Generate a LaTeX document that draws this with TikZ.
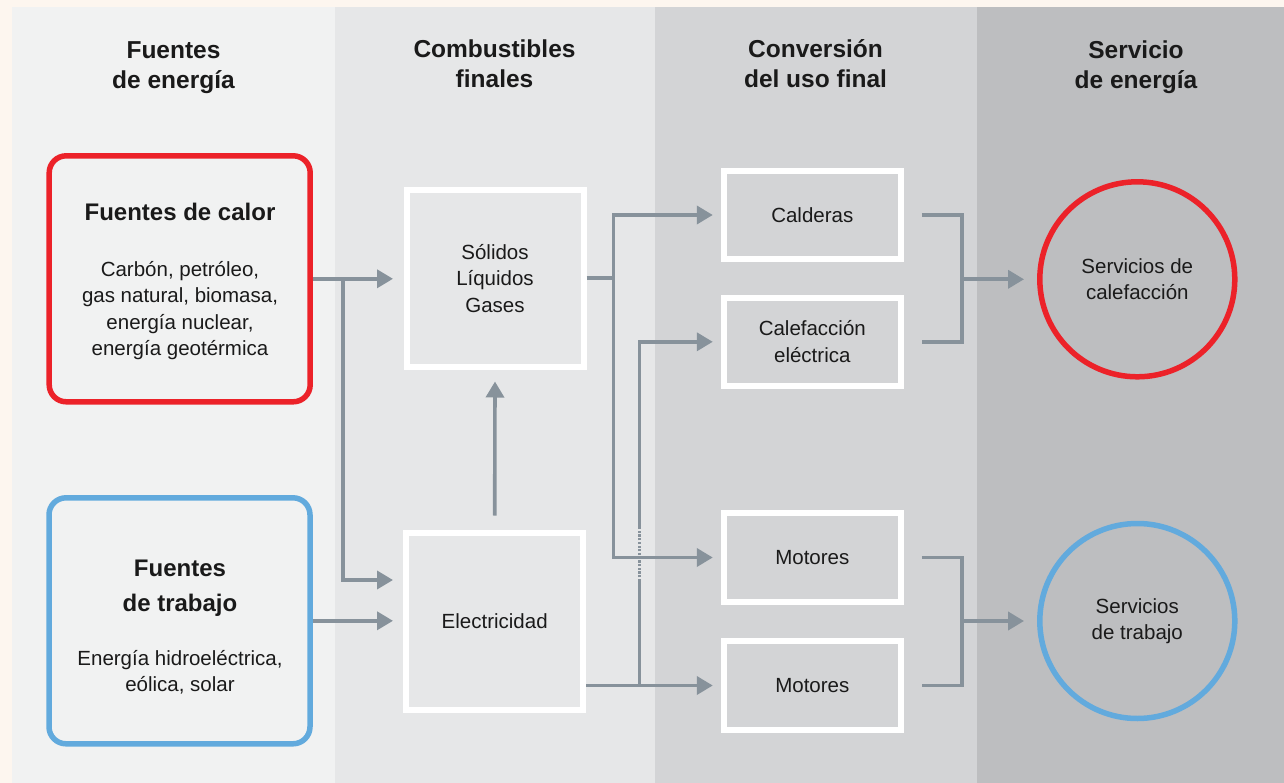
\documentclass[tikz,border=0pt]{standalone}
\usepackage{fontspec}
\setmainfont{Liberation Sans}
\usetikzlibrary{arrows.meta,calc}
\definecolor{cream}{HTML}{FDF6EF}
\definecolor{colA}{HTML}{F1F2F2}
\definecolor{colB}{HTML}{E6E7E8}
\definecolor{colC}{HTML}{D3D4D6}
\definecolor{colD}{HTML}{BDBEC0}
\definecolor{heatred}{HTML}{EC2229}
\definecolor{workblue}{HTML}{62AADD}
\definecolor{flowgray}{HTML}{87929B}
\definecolor{ink}{HTML}{1A1A1A}
\begin{document}
\begin{tikzpicture}[x=1pt,y=-1pt,
  hdr/.style={font=\fontsize{24.5}{30}\selectfont\bfseries, text=ink, align=center},
  ttl/.style={font=\fontsize{24}{35}\selectfont\bfseries, text=ink, align=center},
  txt/.style={font=\fontsize{20.5}{26.5}\selectfont, text=ink, align=center},
  srcbox/.style={draw, line width=5.5pt, rounded corners=17pt, fill=colA, minimum width=261pt, minimum height=246pt, inner sep=0pt},
  fuelbox/.style={draw=white, line width=6pt, minimum width=177pt, minimum height=177pt, inner sep=0pt, txt},
  convbox/.style={draw=white, line width=6pt, minimum width=177pt, minimum height=88.5pt, inner sep=0pt, txt},
  svc/.style={circle, draw, line width=5.5pt, minimum size=195pt, inner sep=0pt, txt},
  flow/.style={draw=flowgray, line width=3.6pt},
  arr/.style={flow, -{Triangle[length=16pt,width=18pt]}},
  dots/.style={flow, dash pattern=on 2.2pt off 1.5pt},
]
\useasboundingbox (0,0) rectangle (1284,783);
% background columns
\fill[cream] (0,0) rectangle (1284,783);
\fill[colA] (12,7) rectangle (334.5,783);
\fill[colB] (334.5,7) rectangle (654.5,783);
\fill[colC] (654.5,7) rectangle (976.5,783);
\fill[colD] (976.5,7) rectangle (1284,783);

% headers
\node[hdr] (h1) at (173.5,67.5) {Fuentes\\de energía};
\node[hdr] (h2) at (494.5,64) {Combustibles\\finales};
\node[hdr] (h3) at (815.5,64) {Conversión\\del uso final};
\node[hdr] (h4) at (1136,67) {Servicio\\de energía};

% source boxes
\node[srcbox, draw=heatred] (calor) at (179.7,278.8) {};
\node[ttl] (calorT) at (180,212) {Fuentes de calor};
\node[txt] (calorB) at (180,310.5) {Carbón, petróleo,\\gas natural, biomasa,\\energía nuclear,\\energía geotérmica};

\node[srcbox, draw=workblue] (trab) at (179.5,620.8) {};
\node[ttl] (trabT) at (180,588) {Fuentes\\de trabajo};
\node[txt] (trabB) at (180,672.5) {Energía hidroeléctrica,\\eólica, solar};

% final fuels
\node[fuelbox] (sol) at (495,278.3) {Sólidos\\Líquidos\\Gases};
\node[fuelbox] (elec) at (494.7,621) {Electricidad};

% conversion
\node[convbox] (cald) at (812.3,215) {Calderas};
\node[convbox] (calef) at (812.3,341.8) {Calefacción\\eléctrica};
\node[convbox] (mot1) at (812.3,557.5) {Motores};
\node[convbox] (mot2) at (812.3,685.5) {Motores};

% services
\node[svc, draw=heatred] (heat) at (1137.3,279.3) {Servicios de\\calefacción};
\node[svc, draw=workblue] (work) at (1137.3,621) {Servicios\\de trabajo};

% helper coordinates
\coordinate (tA) at (393,0);
\coordinate (jA) at (343,0);
\coordinate (jB) at (613.3,0);
\coordinate (jC) at (639.3,0);
\coordinate (d1) at (639.3,581);
\coordinate (d2) at (639.3,527);
\coordinate (bA) at (962,0);
\coordinate (e1) at (393,580);

% sources -> fuels
\draw[arr] (calor.east) -- (calor.east -| tA);
\draw[arr] (calor.east -| jA) |- (e1);
\draw[arr] (trab.east) -- (trab.east -| tA);
\draw[arr] ($(elec.north)+(0,-14)$) -- ($(sol.south)+(0,11.7)$);

% electricity -> conversion
\draw[flow] (mot2.west -| jC) -- (d1);
\draw[dots] (d1) -- (d2);
\draw[arr, shorten >=8pt] (d2) |- (calef.west);
\draw[arr, shorten >=8pt] (elec.east |- mot2.west) -- (mot2.west);

% fuels -> conversion
\draw[flow] (sol.east) -- (sol.east -| jB);
\draw[arr, shorten >=8pt] (sol.east -| jB) |- (cald.west);
\draw[arr, shorten >=8pt] (sol.east -| jB) |- (mot1.west);

% conversion -> services
\draw[flow] ($(cald.east)+(18,0)$) -| (bA |- calef.east) -- ($(calef.east)+(18,0)$);
\draw[arr, shorten >=13pt] (bA |- heat.west) -- (heat.west);
\draw[flow] ($(mot1.east)+(18,0)$) -| (bA |- mot2.east) -- ($(mot2.east)+(18,0)$);
\draw[arr, shorten >=13pt] (bA |- work.west) -- (work.west);
\end{tikzpicture}
\end{document}
